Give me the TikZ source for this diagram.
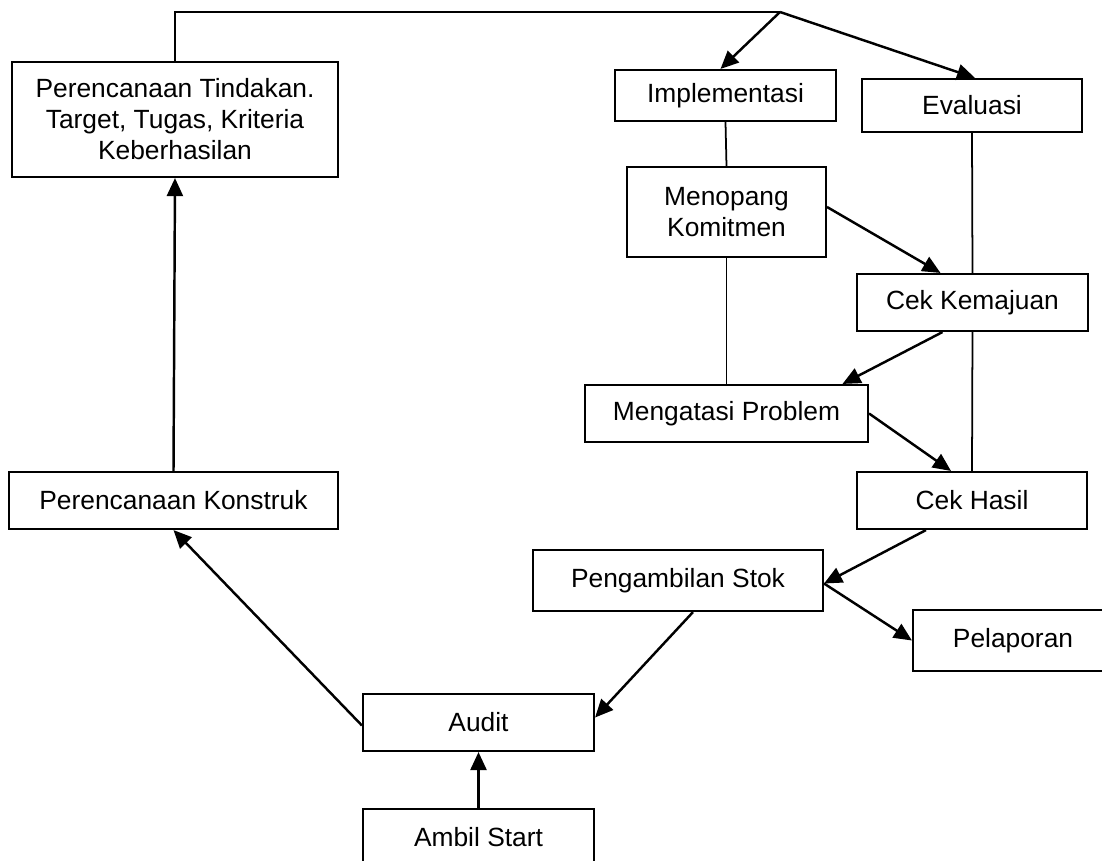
\documentclass[tikz,border=0pt]{standalone}
\usepackage{fontspec}
\setmainfont{Liberation Sans}
\usetikzlibrary{arrows.meta,calc}

\begin{document}
\begin{tikzpicture}[x=0.2mm,y=-0.2mm,
  kotak/.style={draw,line width=1.2pt,align=center,inner sep=0pt,
    font=\fontsize{15pt}{17.6pt}\selectfont},
  panah/.style={line width=1.4pt,-{Triangle[length=3.6mm,width=3.2mm]}},
  garis/.style={line width=1pt}]
\clip (0,0) rectangle (1102,861);
% kotak-kotak
\node[kotak,minimum width=65.2mm,minimum height=23mm] (tindakan) at (175,119.5) {Perencanaan Tindakan.\\Target, Tugas, Kriteria\\Keberhasilan};
\node[kotak,minimum width=44.2mm,minimum height=10.2mm] (implementasi) at (725.5,95.5) {Implementasi};
\node[kotak,minimum width=44mm,minimum height=10.6mm] (evaluasi) at (972,105.5) {Evaluasi};
\node[kotak,minimum width=39.8mm,minimum height=18mm] (menopang) at (726.5,212) {Menopang\\Komitmen};
\node[kotak,minimum width=46.2mm,minimum height=11.4mm] (kemajuan) at (972.5,302.5) {Cek Kemajuan};
\node[kotak,minimum width=56.6mm,minimum height=11.4mm] (mengatasi) at (726.5,413.5) {Mengatasi Problem};
\node[kotak,minimum width=65.8mm,minimum height=11.4mm] (konstruk) at (173.5,500.5) {Perencanaan Konstruk};
\node[kotak,minimum width=46mm,minimum height=11.4mm] (hasil) at (972,500.5) {Cek Hasil};
\node[kotak,minimum width=58mm,minimum height=12.2mm] (stok) at (678,580.5) {Pengambilan Stok};
\node[kotak,minimum width=40mm,minimum height=12.2mm] (pelaporan) at (1013,640.5) {Pelaporan};
\node[kotak,minimum width=46.2mm,minimum height=11.4mm] (audit) at (478.5,722.5) {Audit};
\node[kotak,minimum width=46.2mm,minimum height=11.4mm] (start) at (478.5,837.5) {Ambil Start};
\coordinate (atas) at (780,12);

% penghubung
\draw[garis] (tindakan.north) |- (atas);
\draw[panah] (atas) -- ($(implementasi.north)+(-5,0)$);
\draw[panah] (atas) -- ($(evaluasi.north)+(3,0)$);
\draw[garis] (implementasi.south) -- (menopang.north);
\draw[garis] (evaluasi.south) -- (kemajuan.north);
\draw[panah] ($(menopang.east)+(0,-5)$) -- ($(kemajuan.north)+(-32,0)$);
\draw[garis] (menopang.south) -- (mengatasi.north);
\draw[panah] ($(kemajuan.south)+(-30,0)$) -- ($(mengatasi.north)+(116,0)$);
\draw[garis] (kemajuan.south) -- (hasil.north);
\draw[panah] (mengatasi.east) -- ($(hasil.north)+(-21,0)$);
\draw[panah] ($(hasil.south)+(-46,0)$) -- ($(stok.east)+(0,3)$);
\draw[panah] ($(stok.east)+(0,3)$) -- (pelaporan.west);
\draw[panah] ($(stok.south)+(15,0)$) -- ($(audit.east)+(0,-5)$);
\draw[panah] ($(audit.west)+(0,3)$) -- (konstruk.south);
\draw[panah] (konstruk.north) -- (tindakan.south);
\draw[panah] (start.north) -- (audit.south);
\end{tikzpicture}
\end{document}
